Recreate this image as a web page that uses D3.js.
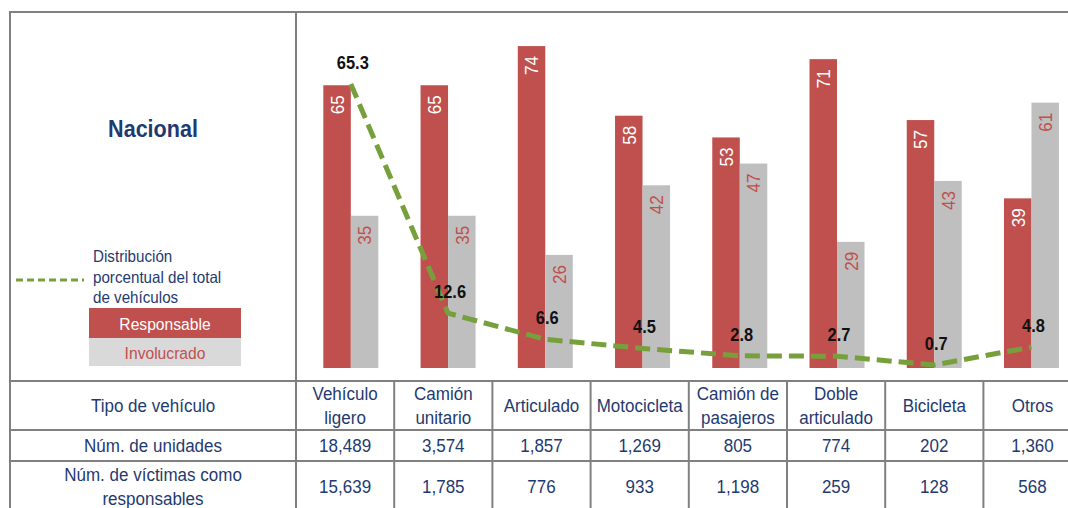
<!DOCTYPE html>
<html><head><meta charset="utf-8">
<script src="https://cdn.jsdelivr.net/npm/d3@7"></script>
<style>
html,body{margin:0;padding:0;background:#fff;}
svg{display:block;}
text{font-family:"Liberation Sans Narrow","Arial Narrow","Liberation Sans",Arial,sans-serif;}
</style></head>
<body>
<svg id="chart" width="1068" height="508"></svg>
<script>
// ---- data ----
const categories = ["Vehículo ligero","Camión unitario","Articulado","Motocicleta","Camión de pasajeros","Doble articulado","Bicicleta","Otros"];
const headerLines = [["Vehículo","ligero"],["Camión","unitario"],["Articulado"],["Motocicleta"],["Camión de","pasajeros"],["Doble","articulado"],["Bicicleta"],["Otros"]];
const responsable = [65,65,74,58,53,71,57,39];
const involucrado = [35,35,26,42,47,29,43,61];
const distribucion = [65.3,12.6,6.6,4.5,2.8,2.7,0.7,4.8];
const unidades = [18489,3574,1857,1269,805,774,202,1360];
const victimas = [15639,1785,776,933,1198,259,128,568];
const rowLabels = [["Tipo de vehículo"],["Núm. de unidades"],["Núm. de víctimas como","responsables"]];
const seriesNames = ["Responsable","Involucrado"];
const lineName = ["Distribución","porcentual del total","de vehículos"];
const title = "Nacional";

// ---- styles ----
const RED = "#c0504d", GRAY = "#bfbfbf", LIGHTGRAY = "#d9d9d9", GREEN = "#77a03c", NAVY = "#1f3a70", BORDER = "#808080";
const SX = 0.92; // condensed text

const svg = d3.select("#chart");

function ctext(parent, x, y, str, size, o = {}){
  return parent.append("text")
    .attr("transform", `translate(${x},${y})${o.rotate ? " rotate(" + o.rotate + ")" : ""} scale(${o.sx || SX},1)`)
    .attr("text-anchor", o.anchor || "middle")
    .attr("dy", o.dy || null)
    .attr("font-size", size)
    .attr("font-weight", o.weight || null)
    .attr("fill", o.fill || NAVY)
    .text(str);
}

// scales
const x0 = d3.scaleBand().domain(categories).range([302.2, 1080.1]);
const x1 = d3.scaleBand().domain(seriesNames)
  .range([x0.bandwidth()/2 - 27.5, x0.bandwidth()/2 + 27.5]);
const y = d3.scaleLinear().domain([0, 80]).range([368, 20]);
const tx = d3.scaleBand().domain(categories).range([296, 296 + 8*98.2]);

// bars
const groups = svg.append("g").selectAll("g").data(categories).join("g")
  .attr("transform", d => `translate(${x0(d)},0)`);

groups.each(function(c, i){
  const g = d3.select(this);
  const bd = [
    {s: "Responsable", v: responsable[i]},
    {s: "Involucrado", v: involucrado[i]}
  ];
  g.selectAll("rect").data(bd).join("rect")
    .attr("x", d => x1(d.s))
    .attr("width", x1.bandwidth())
    .attr("y", d => y(d.v))
    .attr("height", d => y(0) - y(d.v))
    .attr("fill", d => d.s === "Responsable" ? RED : GRAY);
  bd.forEach(d => {
    ctext(g, x1(d.s) + x1.bandwidth()/2, y(d.v) + 10, d.v, 19,
      {rotate: -90, anchor: "end", dy: "0.36em", sx: 0.9,
       fill: d.s === "Responsable" ? "#ffffff" : RED});
  });
});

// line
const cx = c => x0(c) + x0.bandwidth()/2;
const lineGen = d3.line().x((d,i) => cx(categories[i])).y(d => y(d));
svg.append("path").datum(distribucion)
  .attr("d", lineGen)
  .attr("fill", "none")
  .attr("stroke", GREEN)
  .attr("stroke-width", 5)
  .attr("stroke-dasharray", "15,7");
const lbl = svg.append("g");
distribucion.forEach((d,i) => {
  ctext(lbl, cx(categories[i]) + 2, y(d) - 15, d3.format(".1f")(d), 17.5,
    {weight: "bold", fill: "#111", sx: 0.94});
});

// left panel
ctext(svg, 153, 137, title, 24.5, {weight: "bold", sx: 0.88});

svg.append("line").attr("x1",16).attr("x2",84).attr("y1",280).attr("y2",280)
  .attr("stroke",GREEN).attr("stroke-width",3).attr("stroke-dasharray","7,4");
lineName.forEach((t,k) => ctext(svg, 93, 262 + k*20.5, t, 16.5, {anchor: "start"}));

const leg = svg.append("g");
leg.selectAll("rect").data(seriesNames).join("rect")
  .attr("x",89).attr("width",152)
  .attr("y",(d,i)=> i===0?308:338).attr("height",(d,i)=> i===0?30:28)
  .attr("fill",(d,i)=> i===0?RED:LIGHTGRAY);
seriesNames.forEach((s,i) => ctext(leg, 165, i===0?330:359, s, 17,
  {fill: i===0 ? "#ffffff" : RED}));

// table
const rowLines = [381, 430, 461];
const rowCenters = [405.5, 445.5, 486];
const grid = svg.append("g").attr("stroke", BORDER).attr("stroke-width", 2);
grid.append("line").attr("x1",9).attr("x2",1068).attr("y1",12).attr("y2",12);
grid.append("line").attr("x1",10).attr("x2",10).attr("y1",11).attr("y2",508);
grid.append("line").attr("x1",296).attr("x2",296).attr("y1",11).attr("y2",508);
grid.selectAll(".h").data(rowLines).join("line").attr("class","h")
  .attr("x1",10).attr("x2",1068).attr("y1",d=>d).attr("y2",d=>d);
grid.selectAll(".v").data(categories.slice(1)).join("line").attr("class","v")
  .attr("x1",d=>tx(d)).attr("x2",d=>tx(d)).attr("y1",381).attr("y2",508);

function multiline(sel, lines, xPos, yc, lh){
  const n = lines.length;
  lines.forEach((t,k)=>{
    ctext(sel, xPos, yc + (k - (n-1)/2)*lh, t, 18.5, {dy: "0.36em"});
  });
}
const tbl = svg.append("g");
rowLabels.forEach((lines,r)=> multiline(tbl, lines, 153, rowCenters[r], 24));
const fmt = d3.format(",");
categories.forEach((c,i)=>{
  const xc = tx(c) + tx.bandwidth()/2;
  multiline(tbl, headerLines[i], xc, rowCenters[0], 23.5);
  multiline(tbl, [fmt(unidades[i])], xc, rowCenters[1], 24);
  multiline(tbl, [fmt(victimas[i])], xc, rowCenters[2], 24);
});
</script>
</body></html>
